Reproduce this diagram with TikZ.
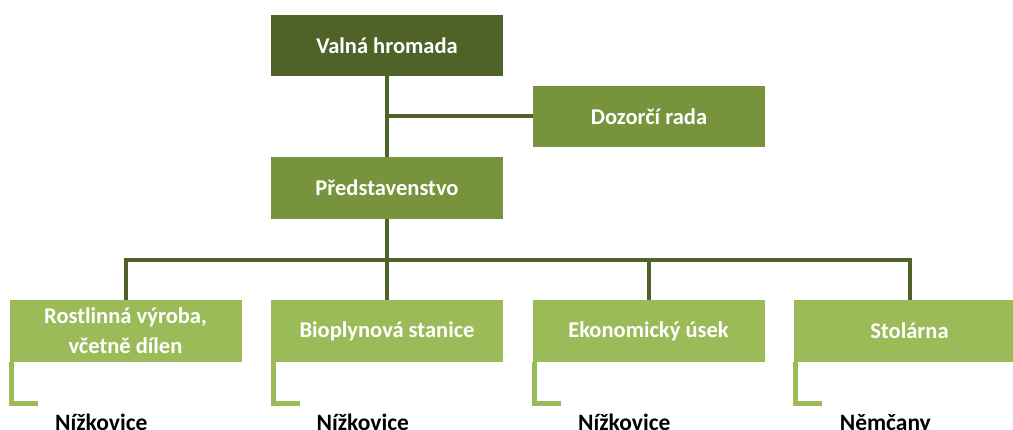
\documentclass[tikz,border=0pt]{standalone}
\usepackage{fontspec}
\setmainfont{Carlito}
\definecolor{dkgreen}{HTML}{4F6228}
\definecolor{midgreen}{HTML}{77933C}
\definecolor{ltgreen}{HTML}{9BBB59}
\begin{document}
\begin{tikzpicture}[x=1pt,y=-1pt,
  box/.style={fill=#1, text=white, minimum width=232pt, minimum height=61.5pt, inner sep=0pt,
    font=\fontsize{22.5}{30}\selectfont\bfseries, align=center},
  conn/.style={draw=dkgreen, line width=4pt},
  bracket/.style={draw=ltgreen, line width=5pt, line join=miter},
  place/.style={anchor=base, text=black, font=\fontsize{23.5}{28}\selectfont\bfseries}]
\clip (0,0) rectangle (1013,430);
\useasboundingbox (0,0) rectangle (1013,430);
\node[box=dkgreen] (vh) at (387,45.5) {Valná hromada};
\node[box=midgreen] (dr) at (649,116.5) {Dozorčí rada};
\node[box=midgreen] (pr) at (387,188) {Představenstvo};
\node[box=ltgreen] (b1) at (125.5,331) {Rostlinná výroba,\\včetně dílen};
\node[box=ltgreen] (b2) at (387,331) {Bioplynová stanice};
\node[box=ltgreen] (b3) at (648.5,331) {Ekonomický úsek};
\node[box=ltgreen] (b4) at (909.5,331) {Stolárna};
\coordinate (bar) at (0,260);
\draw[conn] (vh.south) -- (pr.north);
\draw[conn] (vh.south |- dr.west) -- (dr.west);
\draw[conn] (pr.south) -- (pr.south |- bar);
\draw[conn] (b1.north) -- (b1.north |- bar) -- (b4.north |- bar) -- (b4.north);
\draw[conn] (b2.north) -- (b2.north |- bar);
\draw[conn] (b3.north) -- (b3.north |- bar);
\foreach \b/\t in {b1/Nížkovice, b2/Nížkovice, b3/Nížkovice, b4/Němčany}{
  \draw[bracket] ([xshift=2.5pt]\b.south west) -- ++(0,41.5) -- ++(26.5,0);
  \node[place] (\b l) at ([shift={(92,68.5)}]\b.south west) {\t};
}
\end{tikzpicture}
\end{document}
